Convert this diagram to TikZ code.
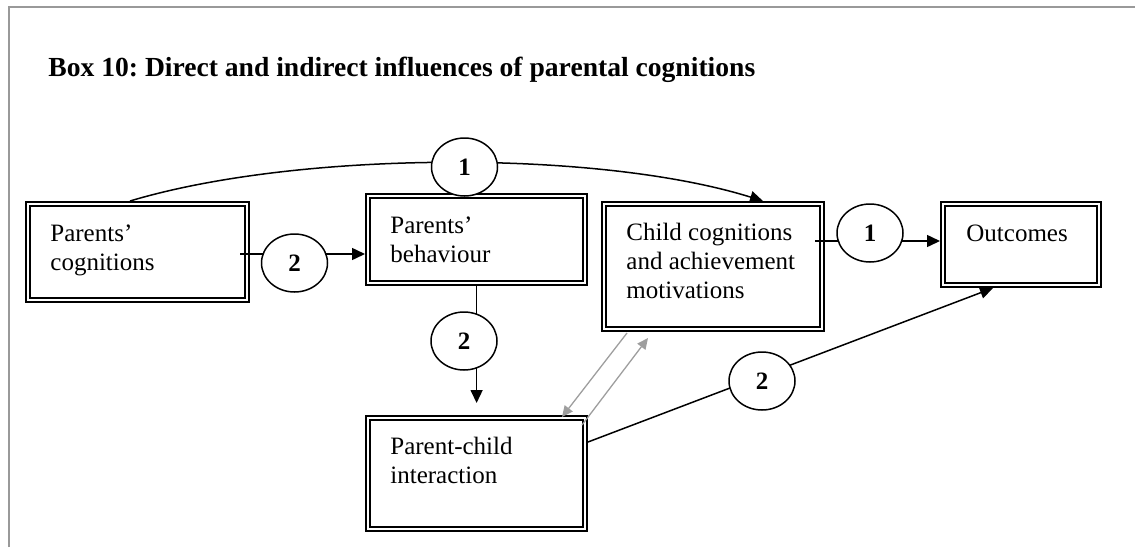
\documentclass[tikz,border=0pt]{standalone}
\usepackage{fontspec}
\setmainfont{Liberation Serif}
\usetikzlibrary{arrows.meta,shapes.geometric}
\frenchspacing

\tikzset{
  doublebox/.style={draw=black, double=white, line width=0.9pt,
    double distance=1.3pt, outer sep=1.55pt, inner sep=0pt,
    anchor=north west},
  % multi-line labels: the base anchor sits on the last line
  boxtext/.style={inner sep=0pt, align=left, anchor=base west,
    font=\fontsize{12.5pt}{14.5pt}\selectfont},
  pathmark/.style={ellipse, draw=black, line width=0.75pt, fill=white,
    minimum width=33pt, minimum height=29pt, inner sep=0pt,
    font=\fontsize{12.5pt}{14pt}\selectfont\bfseries},
  conn/.style={draw=black, line width=0.75pt},
  arr/.style={conn, -{Triangle[length=6.5pt,width=6pt]}},
  feedback/.style={draw=black!38, line width=0.65pt,
    -{Triangle[length=5.5pt,width=5pt]}},
}

\begin{document}
\begin{tikzpicture}[x=0.5pt, y=-0.5pt]
\useasboundingbox (0,0) rectangle (1135,547);

% open frame (left and top edges only)
\draw[black!40, line width=1pt] (9,547) -- (9,6.5) -- (1135,6.5);

% heading
\node[inner sep=0pt, anchor=base west,
      font=\fontsize{13.8pt}{16pt}\selectfont\bfseries] (title) at (48,76)
  {Box 10: Direct and indirect influences of parental cognitions};

% framed boxes
\node[doublebox, minimum width=109.5pt, minimum height=48pt]   (cog)   at (25,201)  {};
\node[doublebox, minimum width=108.5pt, minimum height=43.5pt] (beh)   at (365,193) {};
\node[doublebox, minimum width=109pt,   minimum height=62.5pt] (child) at (601,201) {};
\node[doublebox, minimum width=78pt,    minimum height=40.5pt] (out)   at (940,201) {};
\node[doublebox, minimum width=108.5pt, minimum height=55.5pt] (pci)   at (365,415) {};

% box labels (positioned by the baseline of their last line)
\node[boxtext] (cog-t)   at (50,270)  {Parents’\\cognitions};
\node[boxtext] (beh-t)   at (390,262) {Parents’\\behaviour};
\node[boxtext] (child-t) at (626,298) {Child cognitions\\and achievement\\motivations};
\node[boxtext] (out-t)   at (966,241) {Outcomes};
\node[boxtext] (pci-t)   at (390,483) {Parent-child\\interaction};

% connector end points
\coordinate (cog-top)  at (130,201);
\coordinate (child-in) at (763,201);
\coordinate (cog-out)  at (240,254);
\coordinate (ch-out)   at (815,241);
\coordinate (pci-out)  at (588,442);
\coordinate (out-in)   at (993,288);
\coordinate (fbA-s)    at (627,333);
\coordinate (fbA-e)    at (562,417);
\coordinate (fbB-s)    at (582,425);
\coordinate (fbB-e)    at (648,338);

% direct paths
\draw[arr] (cog-top) .. controls (300,150) and (600,150) .. (child-in);
\draw[arr] (ch-out) -- (ch-out -| out.west);

% indirect paths
\draw[arr] (cog-out) -- (cog-out -| beh.west);
\draw[arr, shorten >=6pt] (beh.south) -- (pci.north);
\draw[arr] (pci-out) -- (out-in);

% reciprocal link between interaction and child cognitions
\draw[feedback] (fbA-s) -- (fbA-e);
\draw[feedback] (fbB-s) -- (fbB-e);

% path markers
\node[pathmark] (m1top) at (464.5,167) {1};
\node[pathmark] (m2h)   at (294.5,263) {2};
\node[pathmark] (m2v)   at (464,341)   {2};
\node[pathmark] (m1h)   at (870,233)   {1};
\node[pathmark] (m2d)   at (762,381)   {2};
\end{tikzpicture}
\end{document}
